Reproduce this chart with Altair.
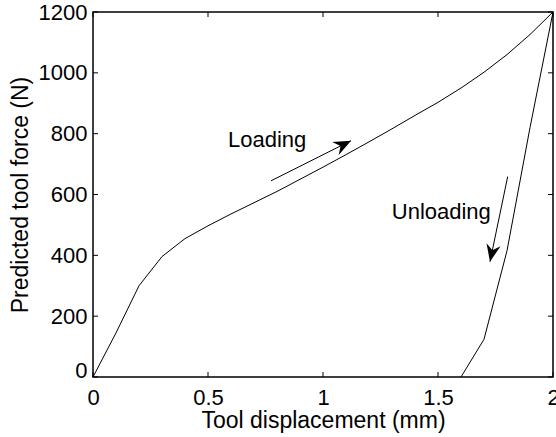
import altair as alt
import pandas as pd

# Force–displacement curves
loading_x = [0.0, 0.1, 0.2, 0.3, 0.4, 0.5, 0.6, 0.7, 0.8, 0.9, 1.0,
             1.1, 1.2, 1.3, 1.4, 1.5, 1.6, 1.7, 1.8, 1.9, 2.0]
loading_y = [0, 145, 300, 396, 455, 497, 536, 573, 610, 650, 690,
             731, 773, 816, 860, 903, 950, 1002, 1060, 1126, 1200]
unloading_x = [1.6, 1.7, 1.8, 1.9, 2.0]
unloading_y = [0, 124, 415, 820, 1200]

# Direction arrows: start point, tip point, head rotation (degrees)
arrow_x = [0.774, 1.803]
arrow_y = [645, 659]
arrow_x2 = [1.122, 1.726]
arrow_y2 = [777, 379]
arrow_angle = [63.3, 191.8]

# Annotations
label_text = ["Loading", "Unloading"]
label_x = [0.587, 1.299]
label_y = [780, 541]

# Axis ticks
x_ticks = [0, 0.5, 1, 1.5, 2]
y_ticks = [0, 200, 400, 600, 800, 1000, 1200]

W, H = 460, 365
FONT = "Liberation Sans"
FS = 22
TITLE_FS = 23
TICK = 5

curves = pd.DataFrame(
    {"x": loading_x + unloading_x,
     "y": loading_y + unloading_y,
     "series": ["loading"] * len(loading_x) + ["unloading"] * len(unloading_x)}
)
arrows = pd.DataFrame({"x": arrow_x, "y": arrow_y, "x2": arrow_x2,
                       "y2": arrow_y2, "angle": arrow_angle})
labels = pd.DataFrame({"x": label_x, "y": label_y, "text": label_text})
xt = pd.DataFrame({"x": x_ticks})
yt = pd.DataFrame({"y": y_ticks})

xscale = alt.Scale(domain=[0, 2], nice=False, zero=False)
yscale = alt.Scale(domain=[0, 1200], nice=False, zero=False)
xaxis = alt.Axis(values=x_ticks, format="~g", title="Tool displacement (mm)",
                 labelPadding=10, titlePadding=1, labelFlush=False)
yaxis = alt.Axis(values=y_ticks, format="d", title="Predicted tool force (N)",
                 labelPadding=6, titlePadding=6, labelFlush=False,
                 labelBaseline={"condition": {"test": "datum.value === 0",
                                              "value": "alphabetic"},
                                "value": "middle"})


def X(field="x"):
    return alt.X(f"{field}:Q", scale=xscale, axis=xaxis)


def Y(field="y"):
    return alt.Y(f"{field}:Q", scale=yscale, axis=yaxis)


lines = alt.Chart(curves).mark_line(color="black", strokeWidth=1).encode(
    x=X(), y=Y(), detail="series:N"
)

ticks_bottom = alt.Chart(xt).mark_rule(color="black", strokeWidth=1).encode(
    x=X(), y=alt.value(H), y2=alt.value(H - TICK))
ticks_top = alt.Chart(xt).mark_rule(color="black", strokeWidth=1).encode(
    x=X(), y=alt.value(0), y2=alt.value(TICK))
ticks_left = alt.Chart(yt).mark_rule(color="black", strokeWidth=1).encode(
    y=Y(), x=alt.value(0), x2=alt.value(TICK))
ticks_right = alt.Chart(yt).mark_rule(color="black", strokeWidth=1).encode(
    y=Y(), x=alt.value(W), x2=alt.value(W - TICK))

shafts = alt.Chart(arrows).mark_rule(color="black", strokeWidth=1).encode(
    x=X(), y=Y(), x2="x2:Q", y2="y2:Q")

# notched arrowhead, tip at the origin, pointing up before rotation
head_path = "M0,0 L0.7,1.7 L0,1.15 L-0.7,1.7 Z"
heads = alt.Chart(arrows).mark_point(
    shape=head_path, filled=True, color="black", opacity=1, size=420,
    strokeWidth=0
).encode(x=X("x2"), y=Y("y2"), angle=alt.Angle("angle:Q", scale=None))

texts = alt.Chart(labels).mark_text(
    align="left", baseline="middle", font=FONT, fontSize=FS, color="black"
).encode(x=X(), y=Y(), text="text:N")

chart = alt.layer(
    lines, ticks_bottom, ticks_top, ticks_left, ticks_right, shafts, heads, texts
).properties(
    width=W, height=H,
    autosize=alt.AutoSizeParams(type="none"),
    padding={"left": 93, "top": 12, "right": 3, "bottom": 60},
    background="white",
).configure_view(
    stroke="black", strokeWidth=1.5
).configure_axis(
    grid=False, domain=False, ticks=False,
    labelFont=FONT, labelFontSize=FS, labelColor="black",
    titleFont=FONT, titleFontSize=TITLE_FS, titleColor="black",
    titleFontWeight="normal",
)

chart.save("out.html", embed_options={"renderer": "svg", "actions": False})
